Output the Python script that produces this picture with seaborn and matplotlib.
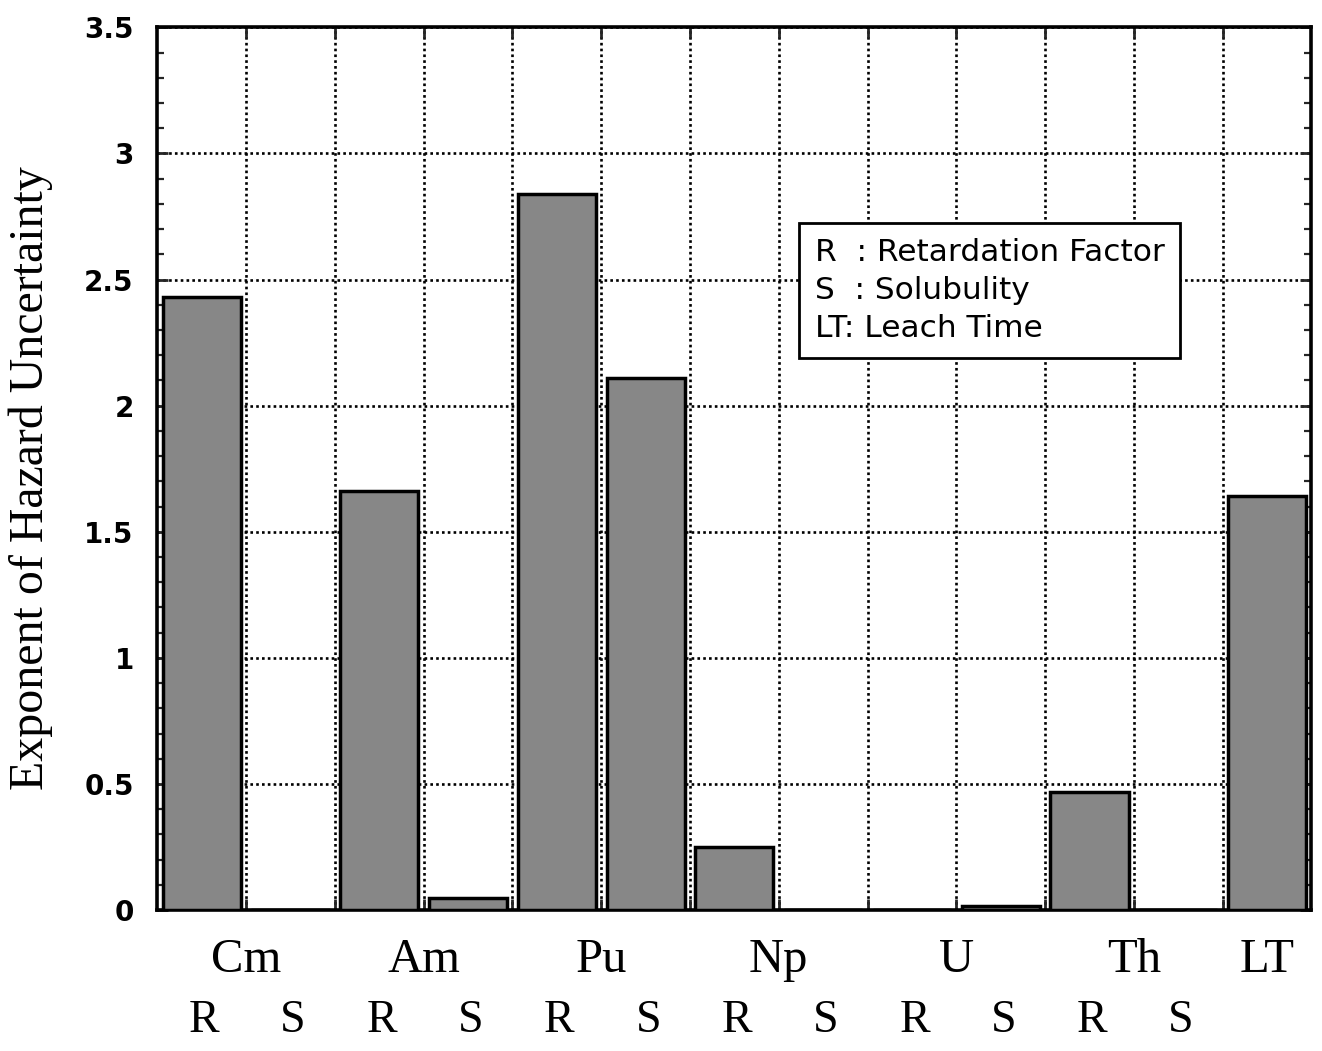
import matplotlib
matplotlib.use("Agg")
import matplotlib.pyplot as plt
import matplotlib.transforms as mtransforms
from matplotlib.ticker import MultipleLocator, FixedLocator, NullFormatter
import seaborn as sns
import pandas as pd

# Parameters varied for each nuclide (R: retardation factor, S: solubility) plus leach time
bar_keys = ["Cm R", "Cm S", "Am R", "Am S", "Pu R", "Pu S",
            "Np R", "Np S", "U R", "U S", "Th R", "Th S", "LT"]
param_labels = ["R", "S", "R", "S", "R", "S", "R", "S", "R", "S", "R", "S", ""]
values = [2.43, 0.0, 1.66, 0.05, 2.84, 2.11, 0.25, 0.0, 0.0, 0.015, 0.47, 0.0, 1.64]

elements = ["Cm", "Am", "Pu", "Np", "U", "Th", "LT"]
element_pos = [0.5, 2.5, 4.5, 6.5, 8.5, 10.5, 12.0]

y_ticks = [0, 0.5, 1, 1.5, 2, 2.5, 3, 3.5]
y_tick_labels = ["0", "0.5", "1", "1.5", "2", "2.5", "3", "3.5"]

legend_lines = ["R  : Retardation Factor", "S  : Solubulity", "LT: Leach Time"]

df = pd.DataFrame({"bar": bar_keys, "value": values})

sns.set_theme(style="white")
plt.rcParams["font.family"] = ["DejaVu Sans"]

fig = plt.figure(figsize=(13.22, 10.51), dpi=100)
ax = fig.add_axes([0.119, 0.134, 0.873, 0.840])

sns.barplot(data=df, x="bar", y="value", order=bar_keys, color="#878787",
            saturation=1, edgecolor="black", linewidth=2.5, width=0.88,
            ax=ax, zorder=3)

ax.set_xlim(-0.5, len(bar_keys) - 0.5)
ax.set_ylim(0, 3.5)

# Vertical grid lines separate the bars; horizontal ones every 0.5
ax.xaxis.set_major_locator(FixedLocator([i + 0.5 for i in range(len(bar_keys) - 1)]))
ax.xaxis.set_major_formatter(NullFormatter())
ax.yaxis.set_major_locator(FixedLocator(y_ticks))
ax.set_yticklabels(y_tick_labels, fontweight="bold")
ax.yaxis.set_minor_locator(MultipleLocator(0.1))

ax.grid(True, which="major", axis="both", color="black",
        linestyle=(0, (1, 1.2)), linewidth=1.9)
ax.set_axisbelow(True)

ax.tick_params(axis="x", which="major", direction="in", top=True, bottom=True,
               length=8, width=2.0, labelbottom=False)
ax.tick_params(axis="y", which="major", direction="in", left=True, right=True,
               length=8, width=2.0, labelsize=20, pad=17, labelcolor="black")
ax.tick_params(axis="y", which="minor", direction="in", left=True, right=True,
               length=5, width=1.6)

for sp in ax.spines.values():
    sp.set_visible(True)
    sp.set_color("black")
    sp.set_linewidth(2.6)

ax.set_xlabel("")
ax.set_ylabel("Exponent of Hazard Uncertainty", fontsize=34.5,
              fontfamily="Liberation Serif", color="black")
ax.yaxis.set_label_coords(-0.09, 0.49)

# Two-row category labels below the axis
trans = mtransforms.blended_transform_factory(ax.transData, ax.transAxes)
for name, pos in zip(elements, element_pos):
    ax.text(pos, -0.057, name, transform=trans, ha="center", va="center",
            fontsize=35, fontfamily="Liberation Serif", color="black")
for i, lab in enumerate(param_labels):
    if lab:
        ax.text(i + 0.03, -0.125, lab, transform=trans, ha="center", va="center",
                fontsize=33, fontfamily="Liberation Serif", color="black")

# Key explaining the abbreviations
ax.text(0.5697, 0.761, "\n".join(legend_lines), transform=ax.transAxes,
        ha="left", va="top", fontsize=22.5, linespacing=1.38, color="black",
        zorder=5,
        bbox=dict(boxstyle="square,pad=0.5", facecolor="white",
                  edgecolor="black", linewidth=2.0))

fig.savefig("out.png", dpi=100)
